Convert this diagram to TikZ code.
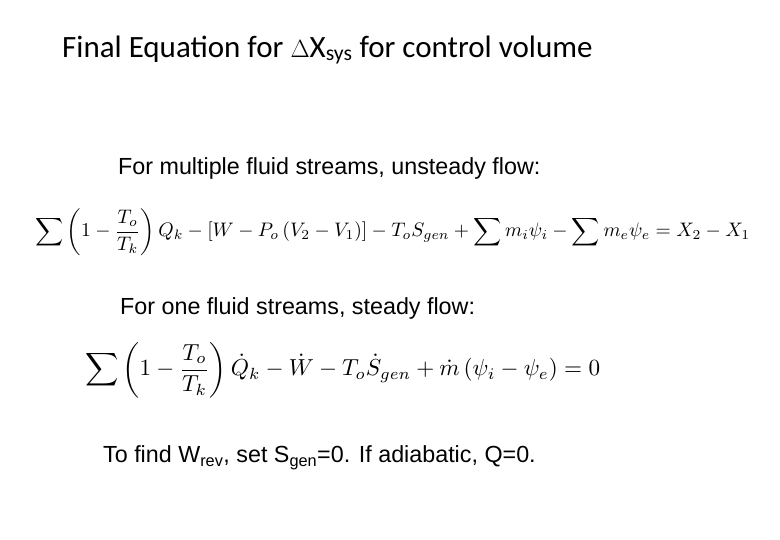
\documentclass[tikz,border=0pt]{standalone}
\usepackage{fontspec}
\usepackage{amsmath,graphicx}
\newfontfamily\titlefont{Carlito}
\newfontfamily\arialfont{Liberation Sans}
\begin{document}
\begin{tikzpicture}[x=1pt,y=-1pt,
  ttl/.style={anchor=west,inner sep=0pt,font=\titlefont\fontsize{31}{36}\selectfont},
  txt/.style={anchor=west,inner sep=0pt,font=\arialfont\fontsize{23.3}{28}\selectfont},
  eqn/.style={anchor=west,inner sep=0pt}]
\useasboundingbox (0,0) rectangle (780,540);
\node[ttl] (title) at (62,50) {Final Equation for $\Delta$X\textsubscript{sys} for control volume};
\node[txt] (t1) at (118,168) {For multiple fluid streams, unsteady flow:};
\node[eqn] (e1) at (35,232) {\resizebox{715pt}{!}{$\displaystyle\sum\left(1-\frac{T_o}{T_k}\right)Q_k-\left[W-P_o\left(V_2-V_1\right)\right]-T_oS_{gen}+\sum m_i\psi_i-\sum m_e\psi_e=X_2-X_1$}};
\node[txt] (t2) at (120,308) {For one fluid streams, steady flow:};
\node[eqn] (e2) at (85,370) {\resizebox{515pt}{!}{$\displaystyle\sum\left(1-\frac{T_o}{T_k}\right)\dot Q_k-\dot W-T_o\dot S_{gen}+\dot m\left(\psi_i-\psi_e\right)=0$}};
\node[txt] (t3) at (103,458) {To find W\textsubscript{rev}, set S\textsubscript{gen}=0. If adiabatic, Q=0.};
\end{tikzpicture}
\end{document}
